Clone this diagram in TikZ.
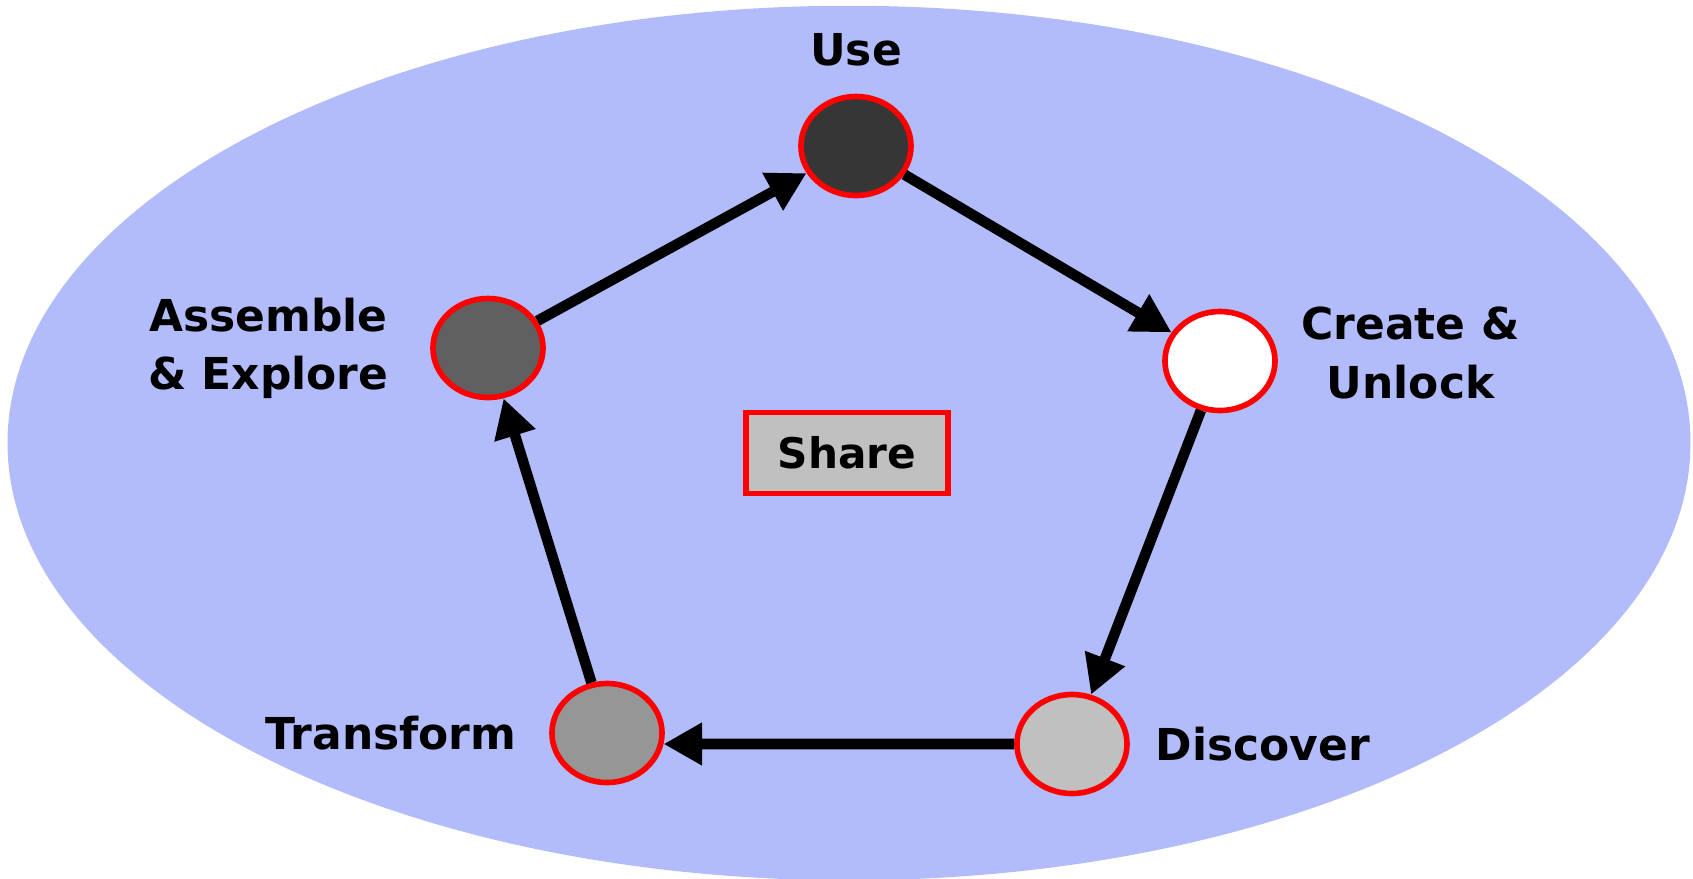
\documentclass[tikz,border=0pt]{standalone}
\usepackage{fontspec}
\setsansfont{DejaVu Sans}
\usetikzlibrary{shapes.geometric, arrows.meta, positioning}
\definecolor{sky}{RGB}{178,188,250}
\definecolor{shadeA}{RGB}{54,54,54}
\definecolor{shadeB}{RGB}{96,96,96}
\definecolor{shadeC}{RGB}{150,150,150}
\definecolor{shadeD}{RGB}{192,192,192}

\begin{document}
\begin{tikzpicture}[x = 0.01cm, y = -0.01cm]
\tikzstyle{stage} = [ellipse, minimum width = 11mm, minimum height = 9.9mm, line width = 1.6pt, draw = red]
\tikzstyle{lbl} = [inner sep = 0pt, align = center, font = \sffamily\bfseries\fontsize{12.5}{16.5}\selectfont]
\tikzstyle{connect} = [-{Triangle[length = 11pt, width = 11.5pt]}, line width = 3pt]
  \useasboundingbox (0,0) rectangle (1693,878);
  \fill[sky] (849,443) ellipse [x radius = 8.41cm, y radius = 4.37cm];
  \node[stage, fill = shadeA] (use) at (856,146) {};
  \node[stage, fill = white] (cre) at (1220,361) {};
  \node[stage, fill = shadeD] (dis) at (1072,744) {};
  \node[stage, fill = shadeC] (tra) at (607,733) {};
  \node[stage, fill = shadeB] (asm) at (488,348) {};
  \node[lbl, above = 2.7mm of use] (useL) {Use};
  \node[lbl, right = 2.3mm of cre, yshift = 0.8mm] (creL) {Create \&\\Unlock};
  \node[lbl, right = 2.5mm of dis] (disL) {Discover};
  \node[lbl, left = 3.2mm of tra] (traL) {Transform};
  \node[lbl, left = 4.1mm of asm] (asmL) {Assemble\\\& Explore};
  \node[lbl, draw = red, fill = shadeD, line width = 1.6pt, minimum width = 20.2mm, minimum height = 8.1mm, font = \sffamily\bfseries\fontsize{12}{15}\selectfont] (share) at (847,453) {Share};
\path (asm) edge [connect] (use) (use) edge [connect] (cre) (cre) edge [connect] (dis)
      (dis.west) edge [connect] (tra.-11) (tra) edge [connect] (asm);
\end{tikzpicture}
\end{document}
